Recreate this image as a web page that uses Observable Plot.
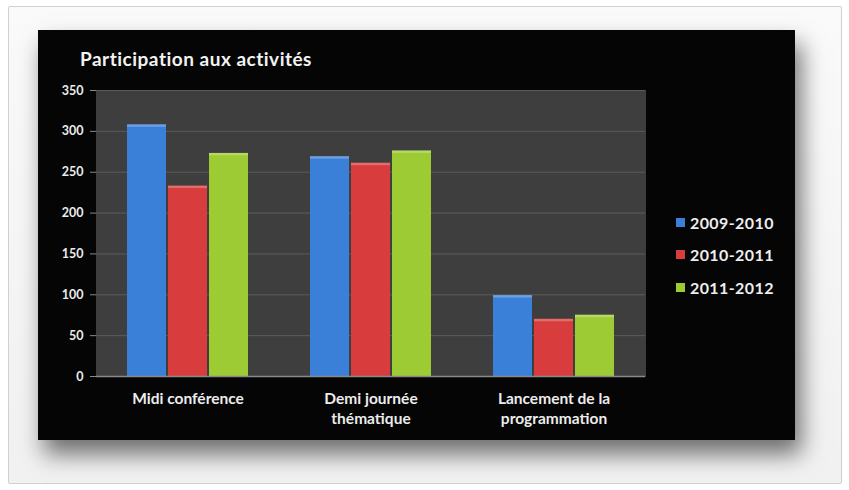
<!DOCTYPE html>
<html>
<head>
<meta charset="utf-8">
<script src="https://cdn.jsdelivr.net/npm/d3@7"></script>
<script src="https://cdn.jsdelivr.net/npm/@observablehq/plot@0.6"></script>
<style>
  html, body { margin: 0; padding: 0; background: #ffffff; }
  #page { position: relative; width: 849px; height: 490px; overflow: hidden; }
  #frame { position: absolute; left: 8px; top: 6px; width: 832px; height: 476px;
           border: 1px solid #d0d0d0; background: linear-gradient(#fafafa, #f1f1f1); border-radius: 2px; }
  #panel { position: absolute; left: 38px; top: 30px; width: 757px; height: 410px; background: #050505;
           box-shadow: 6px 14px 22px rgba(0,0,0,0.55); }
  #title { position: absolute; left: 42px; top: 17px; color: #f2f2f2; font: bold 19px Lato, "Open Sans", sans-serif; letter-spacing: 0.5px; }
  #legend { position: absolute; left: 638px; top: 176px; color: #eeeeee; font: bold 16px Lato, sans-serif; letter-spacing: 0.4px; }
  .item { display: flex; align-items: center; height: 32.5px; }
  .sw { width: 9px; height: 9px; margin-right: 5px; }
  #chart { position: absolute; left: 0; top: 0; }
</style>
</head>
<body>
<div id="page">
  <div id="frame"></div>
  <div id="panel">
    <div id="chart"></div>
    <div id="title">Participation aux activités</div>
    <div id="legend"></div>
  </div>
</div>
<script>
const categories = ["Midi conférence", "Demi journée thématique", "Lancement de la programmation"];
const categoryLabels = ["Midi conférence", "Demi journée\nthématique", "Lancement de la\nprogrammation"];
const series = ["2009-2010", "2010-2011", "2011-2012"];
const colors = ["#3b80d8", "#d93c3c", "#9dcb33"];
const values2009 = [308, 269, 99];
const values2010 = [233, 261, 70];
const values2011 = [273, 276, 75];
const yTicks = [0, 50, 100, 150, 200, 250, 300, 350];

const seriesValues = [values2009, values2010, values2011];
const data = [];
categories.forEach((c, i) => series.forEach((s, j) => data.push({cat: c, series: s, value: seriesValues[j][i]})));

const chart = Plot.plot({
  width: 757,
  height: 410,
  marginLeft: 57,
  marginRight: 150,
  marginTop: 60,
  marginBottom: 64,
  style: {background: "transparent", color: "#f0f0f0", fontFamily: "Lato, sans-serif", fontWeight: "bold"},
  fx: {domain: categories, padding: 0, label: null, axis: null},
  x: {domain: series, paddingInner: 0.04, paddingOuter: 0.73, axis: null},
  y: {domain: [0, 350], label: null, axis: null},
  color: {domain: series, range: colors},
  marks: [
    Plot.frame({fill: "#3e3e3e", stroke: "#3e3e3e", strokeWidth: 1}),
    Plot.ruleY(yTicks.filter(d => d > 0), {stroke: "#5c5c5c", strokeWidth: 1}),
    Plot.barY(data, {fx: "cat", x: "series", y: "value", fill: "series", inset: 0}),
    Plot.barY(data, {fx: "cat", x: "series", y1: d => d.value - 3, y2: "value", fill: "#ffffff", fillOpacity: 0.25, inset: 0}),
    Plot.ruleY([0], {stroke: "#8a8a8a", strokeWidth: 1.5}),
    Plot.axisY({ticks: yTicks, tickSize: 6, tickPadding: 7, stroke: "#8a8a8a", fontSize: 12.5, fill: "#ececec", label: null}),
    Plot.axisFx({anchor: "bottom", tickSize: 0, tickPadding: 13, fontSize: 15.5, lineHeight: 1.3, fill: "#ececec", label: null,
      tickFormat: d => categoryLabels[categories.indexOf(d)]})
  ]
});
document.getElementById("chart").appendChild(chart);

const legend = document.getElementById("legend");
series.forEach((s, i) => {
  const item = document.createElement("div");
  item.className = "item";
  const sw = document.createElement("span");
  sw.className = "sw";
  sw.style.background = colors[i];
  const t = document.createElement("span");
  t.textContent = s;
  item.appendChild(sw);
  item.appendChild(t);
  legend.appendChild(item);
});
</script>
</body>
</html>
